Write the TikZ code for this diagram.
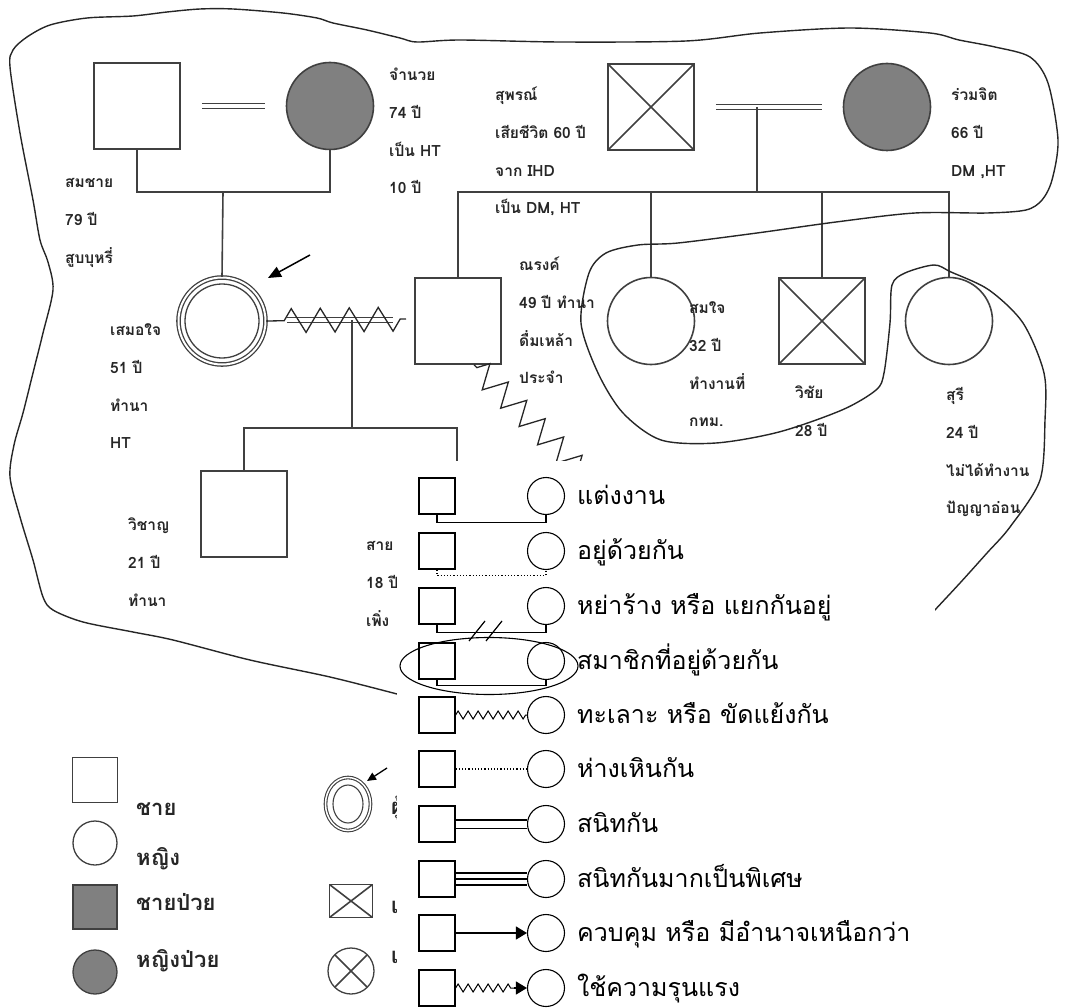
\documentclass[tikz,border=0pt]{standalone}
\usepackage{fontspec}
\newfontfamily\thai[Script=Thai]{Loma}
\usetikzlibrary{shapes.geometric,decorations.pathmorphing,arrows.meta}
\colorlet{gline}{black!75}
\colorlet{ill}{black!50}

% a person's caption: one node per line, 37.8pt apart
\newcommand\personlabel[4]{%
  \foreach \lbltext [count=\i] in {#4}
    \node[plbl] (#1-\i) at (#2,{#3+5.5+(\i-1)*37.8}) {\lbltext};}

\begin{document}
\begin{tikzpicture}[x=1pt,y=-1pt,
  gl/.style={line width=1.6pt,draw=gline},
  male/.style={gl,rectangle,minimum size=86pt,inner sep=0pt},
  female/.style={gl,circle,minimum size=87pt,inner sep=0pt},
  sick/.style={fill=ill},
  crossed/.style={path picture={\draw[gl]
      (path picture bounding box.north west) -- (path picture bounding box.south east)
      (path picture bounding box.north east) -- (path picture bounding box.south west);}},
  pair/.style={gl,double,double distance=3.5pt,line width=1.3pt},
  conflict/.style={line width=1.3pt,draw=black!85,decorate},
  plbl/.style={anchor=base west,inner sep=0pt,text=black!85,
    font=\thai\bfseries\fontsize{15.5}{17}\selectfont},
  hhold/.style={line width=1.4pt,draw=black!85},
  % key
  ksq/.style={draw=black,line width=1.2pt,rectangle,minimum size=36pt,inner sep=0pt},
  kci/.style={draw=black,line width=1.1pt,circle,minimum size=37pt,inner sep=0pt},
  kln/.style={draw=black,line width=1.2pt},
  ktx/.style={anchor=base west,inner sep=0pt,font=\thai\fontsize{25}{27}\selectfont},
  kbig/.style={line width=1.3pt,draw=black!75},
  kbtx/.style={anchor=base west,inner sep=0pt,text=black!85,
    font=\thai\bfseries\fontsize{22}{24}\selectfont}
]
\useasboundingbox (0,0) rectangle (1068,1008);

% ---------- first couple ----------
\node[male] (somchai) at (137,106) {};
\node[female,sick] (jamnuay) at (330,106) {};
\draw[pair] ([xshift=21pt]somchai.east) -- ([xshift=-21pt]jamnuay.west);
\coordinate (sib1) at (223,192);
\draw[gl] (somchai.south) |- (sib1) -| (jamnuay.south);

\personlabel{somchai}{65}{182}{สมชาย,79 ปี,สูบบุหรี่}
\personlabel{jamnuay}{389}{75}{จำนวย,74 ปี,เป็น HT,10 ปี}

% ---------- second couple ----------
\node[male,crossed] (supan) at (651,107) {};
\node[female,sick] (ruamjit) at (887,107) {};
\draw[pair] ([xshift=21pt]supan.east) -- ([xshift=-21pt]ruamjit.west);
\coordinate (cpl2) at (757,107);
\coordinate (sib3) at (757,192);
\draw[gl] (cpl2) -- (sib3);

\personlabel{supan}{495}{95}{สุพรณ์,เสียชีวิต 60 ปี,จาก IHD,{เป็น DM, HT}}
\personlabel{ruamjit}{951}{95}{ร่วมจิต,66 ปี,{DM ,HT}}

% ---------- middle generation ----------
\node[female,double,double distance=2pt,line width=1.3pt,minimum size=87pt] (semoejai) at (222,321) {};
\draw[gl,line width=1.3pt] (semoejai.center) circle[radius=37pt];
\draw[gl] (sib1) -- (semoejai.north);
\coordinate (arrT) at (310,255);
\coordinate (arrH) at (268,278);
\draw[line width=1.5pt,-{Triangle[length=13pt,width=11pt]}] (arrT) -- (arrH);

\node[male] (narong) at (458,321) {};
\node[female] (somjai) at (651,321) {};
\node[male,crossed] (wichai) at (822,321) {};
\node[female] (suri) at (949,321) {};
\draw[gl] (narong.north) |- (sib3) -| (suri.north);
\draw[gl] (somjai.north) -- (somjai.north |- sib3);
\draw[gl] (wichai.north) -- (wichai.north |- sib3);

% marriage with conflict
\coordinate (m2a) at (287,320);
\coordinate (m2b) at (393,320);
\coordinate (m2c) at (352,320);
\draw[pair] (m2a) -- (m2b);
\draw[conflict,decoration={zigzag,segment length=29pt,amplitude=12pt,pre length=18pt,post length=3pt}]
  (semoejai.east) -- (406,319);

\personlabel{semoejai}{110}{330}{เสมอใจ,51 ปี,ทำนา,HT}
\personlabel{narong}{519}{265}{ณรงค์,49 ปี ทำนา,ดื่มเหล้า,ประจำ}
\personlabel{somjai}{689}{308}{สมใจ,32 ปี,ทำงานที่,กทม.}
\personlabel{wichai}{795}{393}{วิชัย,28 ปี}
\personlabel{suri}{946}{395}{สุรี,24 ปี,ไม่ได้ทำงาน,ปัญญาอ่อน}

% ---------- third generation ----------
\node[male] (wichan) at (244,514) {};
\coordinate (sib2) at (352,428);
\coordinate (kid2) at (457,500);
\draw[gl] (m2c) -- (sib2);
\draw[gl] (wichan.north) |- (sib2) -| (kid2);
\draw[conflict,decoration={zigzag,segment length=26pt,amplitude=12pt,pre length=4pt}]
  ([xshift=16pt]narong.south) -- (600,490);

\personlabel{wichan}{128}{525}{วิชาญ,21 ปี,ทำนา}
\personlabel{sai}{366}{545}{สาย,18 ปี,เพิ่ง}

% ---------- household boundary ----------
\draw[hhold] plot[smooth,tension=0.5] coordinates {
 (397,694) (330,677) (250,660) (173,640) (133,632) (83,622) (53,610) (43,597)
 (33,560) (20,517) (10,477) (14,445) (23,413) (33,373) (43,333) (53,290)
 (48,262) (40,240) (33,200) (20,133) (10,67) (13,50) (27,37) (50,25) (87,18)
 (133,16) (167,12) (200,9) (233,9) (283,13) (317,18) (333,23) (367,30) (400,38)
 (417,42) (460,40) (560,42) (686,41) (760,33) (850,28) (930,33) (959,40)
 (995,47) (1030,57) (1048,83) (1058,140) (1052,180) (1042,200) (1026,210)
 (987,213) (915,213) (836,222) (757,233) (678,243) (638,245) (606,253)
 (589,273) (581,323) (598,373) (623,413) (661,440) (716,443) (779,432)
 (842,410) (876,390) (884,373) (890,323) (892,285) (905,273) (934,265)
 (951,272) (989,290) (1023,323) (1044,373) (1045,420) (1040,480) (1010,527)
 (987,553) (960,583) (933,612)};

% ---------- symbol key, left ----------
\node[kbig,rectangle,minimum size=45pt,inner sep=0pt] (kMale) at (95,780) {};
\node[kbig,circle,minimum size=44pt,inner sep=0pt] (kFemale) at (95,843) {};
\node[kbig,rectangle,fill=ill,minimum size=44pt,inner sep=0pt] (kMaleIll) at (95,907) {};
\node[kbig,circle,fill=ill,minimum size=44pt,inner sep=0pt] (kFemaleIll) at (95,972) {};
\node[kbtx] (tMale) at (136,815) {ชาย};
\node[kbtx] (tFemale) at (136,865) {หญิง};
\node[kbtx] (tMaleIll) at (136,910) {ชายป่วย};
\node[kbtx] (tFemaleIll) at (136,967) {หญิงป่วย};

\node[kbig,ellipse,double,double distance=1.5pt,line width=1.1pt,minimum width=45pt,minimum height=53pt,inner sep=0pt] (kIndex) at (348,804) {};
\draw[kbig,line width=1.1pt] (kIndex.center) ellipse[x radius=15pt,y radius=19pt];
\coordinate (kArrT) at (387,768);
\coordinate (kArrH) at (367,781);
\draw[line width=1.3pt,-{Triangle[length=9pt,width=8pt]}] (kArrT) -- (kArrH);
\node[kbig,rectangle,crossed,minimum width=43pt,minimum height=33pt,inner sep=0pt] (kDead) at (351,901) {};
\node[kbig,circle,crossed,minimum size=46pt,inner sep=0pt] (kDeadF) at (351,971) {};
\node[kbtx] (tIndex) at (391,814) {ผู้ป่วย};
\node[kbtx] (tDead) at (391,913) {เสียชีวิต};
\node[kbtx] (tDeadF) at (391,963) {เสียชีวิต};

% ---------- relationship key ----------
\fill[white] (397,461) rectangle (935,1008);

\foreach \r/\y in {1/496,2/551,3/606,4/661,5/715,6/769,7/824,8/879,9/933,10/988}{
  \node[ksq] (q\r) at (437,\y) {};
  \node[kci] (c\r) at (546,\y) {};
}
\draw[kln] (q1.south) -- ++(0,8) -| (c1.south);
\draw[kln,dotted] (q2.south) -- ++(0,6) -| (c2.south);
\draw[kln] (q3.south) -- ++(0,8) -| (c3.south);
\coordinate (cut1) at (477,631);
\coordinate (cut2) at (494,631);
\draw[kln] ([shift={(-8,10)}]cut1) -- ([shift={(8,-10)}]cut1);
\draw[kln] ([shift={(-8,10)}]cut2) -- ([shift={(8,-10)}]cut2);
\draw[kln] (q4.south) -- ++(0,6) -| (c4.south);
\node[ellipse,draw=black,line width=1.1pt,minimum width=178pt,minimum height=57pt] (hh) at (489,666) {};
\draw[kln,line width=1pt,decorate,decoration={zigzag,segment length=10pt,amplitude=4pt}] (q5.east) -- (c5.west);
\draw[kln,dotted] (q6.east) -- (c6.west);
\draw[kln,line width=1.1pt,double,double distance=7pt] (q7.east) -- (c7.west);
\draw[kln,line width=1.1pt] ([yshift=6pt]q8.east) -- ([yshift=6pt]c8.west);
\draw[kln,line width=1.1pt] (q8.east) -- (c8.west);
\draw[kln,line width=1.1pt] ([yshift=-6pt]q8.east) -- ([yshift=-6pt]c8.west);
\draw[kln,-{Triangle[length=11pt,width=13pt]}] (q9.east) -- (c9.west);
\coordinate (zz) at (514,988);
\draw[kln,line width=1pt,decorate,decoration={zigzag,segment length=10pt,amplitude=4pt}] (q10.east) -- (zz);
\draw[kln,-{Triangle[length=11pt,width=13pt]}] (zz) -- (c10.west);

\node[ktx] (k1) at (577,504) {แต่งงาน};
\node[ktx] (k2) at (577,559) {อยู่ด้วยกัน};
\node[ktx] (k3) at (577,614) {หย่าร้าง หรือ แยกกันอยู่};
\node[ktx] (k4) at (577,669) {สมาชิกที่อยู่ด้วยกัน};
\node[ktx] (k5) at (577,723) {ทะเลาะ หรือ ขัดแย้งกัน};
\node[ktx] (k6) at (577,777) {ห่างเหินกัน};
\node[ktx] (k7) at (577,832) {สนิทกัน};
\node[ktx] (k8) at (577,887) {สนิทกันมากเป็นพิเศษ};
\node[ktx] (k9) at (577,941) {ควบคุม หรือ มีอำนาจเหนือกว่า};
\node[ktx] (k10) at (577,996) {ใช้ความรุนแรง};
\end{tikzpicture}
\end{document}
